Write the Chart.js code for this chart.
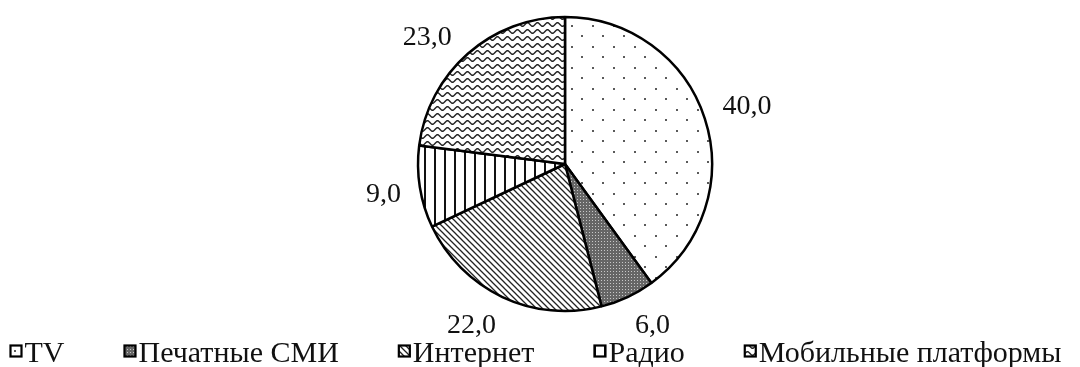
<!DOCTYPE html>
<html>
<head>
<meta charset="utf-8">
<script src="https://cdn.jsdelivr.net/npm/chart.js@4.4.1/dist/chart.umd.min.js"></script>
<style>
  html, body { margin: 0; padding: 0; background: #fff; }
  #wrap { width: 1080px; height: 367px; }
</style>
</head>
<body>
<div id="wrap"><canvas id="c" width="1080" height="367"></canvas></div>
<script>
// Media channel shares, %
const categories = ['TV', 'Печатные СМИ', 'Интернет', 'Радио', 'Мобильные платформы'];
const shares = [40.0, 6.0, 22.0, 9.0, 23.0];

const FONT = '"Liberation Serif", "Times New Roman", serif';

// Monochrome hatch fills, one per channel
function makeTile(w, h, draw) {
  const c = document.createElement('canvas');
  c.width = w; c.height = h;
  const g = c.getContext('2d');
  g.fillStyle = '#fff';
  g.fillRect(0, 0, w, h);
  draw(g, w, h);
  return document.createElement('canvas').getContext('2d').createPattern(c, 'repeat');
}

const patterns = [
  // sparse staggered dots
  makeTile(21, 21, g => {
    g.fillStyle = '#5a5a5a';
    g.fillRect(4, 4, 2, 2);
    g.fillRect(14, 14, 2, 2);
  }),
  // dense grey screen
  makeTile(3, 3, g => {
    g.fillStyle = '#666'; g.fillRect(0, 0, 3, 3);
    g.fillStyle = '#c8c8c8'; g.fillRect(1, 1, 1, 1);
  }),
  // back-diagonal lines
  makeTile(6, 6, g => {
    g.strokeStyle = '#222'; g.lineWidth = 1.3;
    g.beginPath();
    g.moveTo(-1, -1); g.lineTo(7, 7);
    g.moveTo(-4, 2); g.lineTo(2, 8);
    g.moveTo(4, -2); g.lineTo(10, 4);
    g.stroke();
  }),
  // vertical lines
  makeTile(10, 10, g => {
    g.fillStyle = '#111'; g.fillRect(4, 0, 2, 10);
  }),
  // wavy rows
  makeTile(10, 7, g => {
    g.strokeStyle = '#222'; g.lineWidth = 1.4;
    g.beginPath();
    for (let x = -1; x <= 11; x += 0.5) {
      const y = 3.5 + 1.8 * Math.sin(2 * Math.PI * x / 10);
      if (x === -1) g.moveTo(x, y); else g.lineTo(x, y);
    }
    g.stroke();
  })
];

function fmt(v) { return v.toFixed(1).replace('.', ','); }

// Value labels set just outside each slice
const valueLabels = {
  id: 'valueLabels',
  afterDatasetsDraw(chart) {
    const ctx = chart.ctx;
    const meta = chart.getDatasetMeta(0);
    const size = 28;
    ctx.save();
    ctx.font = size + 'px ' + FONT;
    ctx.fillStyle = '#111';
    ctx.textAlign = 'center';
    ctx.textBaseline = 'alphabetic';
    const minY = 35, maxY = 323;
    meta.data.forEach((arc, i) => {
      const p = arc.getProps(['x', 'y', 'startAngle', 'endAngle', 'outerRadius'], true);
      const a = (p.startAngle + p.endAngle) / 2;
      const text = fmt(shares[i]);
      const hw = ctx.measureText(text).width / 2;
      const hh = 10;
      const d = p.outerRadius + 18 + hw * Math.abs(Math.cos(a)) + hh * Math.abs(Math.sin(a));
      let lx = p.x + Math.cos(a) * d;
      let ly = p.y + Math.sin(a) * d;
      if (ly < minY || ly > maxY) {
        ly = Math.min(Math.max(ly, minY), maxY);
        const dy = ly - p.y;
        const dx = Math.sqrt(Math.max(d * d - dy * dy, 0));
        lx = p.x + (Math.cos(a) < 0 ? -dx : dx);
      }
      ctx.fillText(text, lx, ly + 0.34 * size);
    });
    ctx.restore();
  }
};

// Single-row legend along the bottom edge
const bottomLegend = {
  id: 'bottomLegend',
  afterDraw(chart) {
    const ctx = chart.ctx;
    const size = 30, box = 11, textGap = 3, itemGap = 60;
    ctx.save();
    ctx.font = size + 'px ' + FONT;
    const widths = categories.map(t => ctx.measureText(t).width);
    const total = widths.reduce((s, w) => s + box + textGap + w, 0) + itemGap * (categories.length - 1);
    let x = (chart.width - total) / 2 - 4;
    const cy = 351;
    categories.forEach((t, i) => {
      ctx.fillStyle = patterns[i];
      ctx.fillRect(x, cy - box / 2, box, box);
      ctx.lineWidth = 2.2;
      ctx.strokeStyle = '#000';
      ctx.strokeRect(x, cy - box / 2, box, box);
      ctx.fillStyle = '#111';
      ctx.textBaseline = 'alphabetic';
      ctx.textAlign = 'left';
      ctx.fillText(t, x + box + textGap, cy + 11);
      x += box + textGap + widths[i] + itemGap;
    });
    ctx.restore();
  }
};

new Chart(document.getElementById('c'), {
  type: 'pie',
  data: {
    labels: categories,
    datasets: [{
      data: shares,
      backgroundColor: patterns,
      borderColor: '#000',
      borderWidth: 2.5,
      radius: 147
    }]
  },
  options: {
    responsive: false,
    animation: false,
    layout: { padding: { left: 50, right: 0, top: 17, bottom: 56 } },
    plugins: {
      legend: { display: false },
      tooltip: { enabled: false }
    }
  },
  plugins: [valueLabels, bottomLegend]
});
</script>
</body>
</html>
